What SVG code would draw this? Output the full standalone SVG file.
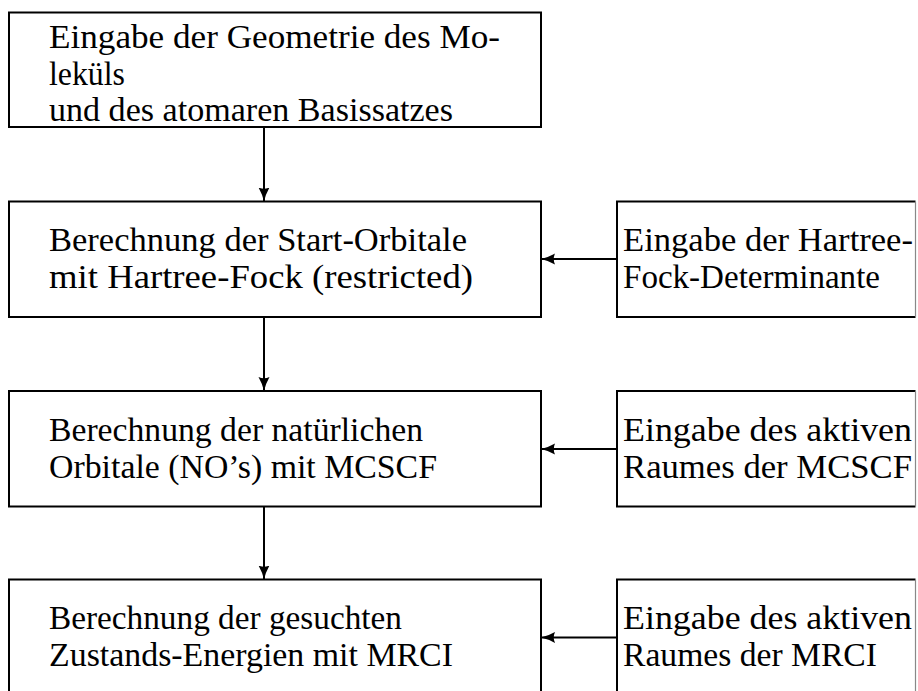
<svg xmlns="http://www.w3.org/2000/svg" width="918" height="691" viewBox="0 0 918 691">
  <style>
    .box { fill: #fff; stroke: #000; stroke-width: 2; }
    .edge { fill: none; stroke: #000; stroke-width: 2; }
    .rim { fill: none; stroke: #888; stroke-width: 1.2; }
    text { font-family: "Liberation Serif", "Times New Roman", serif; font-size: 33px; fill: #000; }
    .conn { fill: none; stroke: #000; stroke-width: 2; marker-end: url(#ah); }
  </style>
  <defs>
    <marker id="ah" viewBox="0 0 14 12" refX="14" refY="6" markerWidth="14" markerHeight="12" orient="auto" markerUnits="userSpaceOnUse">
      <path d="M0,0.5 Q7,4.5 14,6 Q7,7.5 0,11.5 Q2.5,6 0,0.5 z" fill="#000"/>
    </marker>
  </defs>
  <rect width="918" height="691" fill="#fff"/>

  <!-- main column -->
  <g id="input-geometry">
    <rect class="box" x="9" y="12.5" width="532" height="114.5"/>
    <text x="49" y="48" textLength="451" lengthAdjust="spacingAndGlyphs">Eingabe der Geometrie des Mo-</text>
    <text x="49" y="84.5" textLength="76" lengthAdjust="spacingAndGlyphs">leküls</text>
    <text x="49" y="121" textLength="404" lengthAdjust="spacingAndGlyphs">und des atomaren Basissatzes</text>
  </g>

  <g id="start-orbitals">
    <rect class="box" x="9" y="201.5" width="532" height="115.5"/>
    <text x="49" y="251" textLength="418" lengthAdjust="spacingAndGlyphs">Berechnung der Start-Orbitale</text>
    <text x="49" y="288" textLength="424" lengthAdjust="spacingAndGlyphs">mit Hartree-Fock (restricted)</text>
  </g>

  <g id="natural-orbitals">
    <rect class="box" x="9" y="391" width="532" height="115.5"/>
    <text x="49" y="441" textLength="374" lengthAdjust="spacingAndGlyphs">Berechnung der natürlichen</text>
    <text x="49" y="478" textLength="388" lengthAdjust="spacingAndGlyphs">Orbitale (NO’s) mit MCSCF</text>
  </g>

  <g id="state-energies">
    <rect class="box" x="9" y="579.5" width="532" height="130"/>
    <text x="49" y="629" textLength="353" lengthAdjust="spacingAndGlyphs">Berechnung der gesuchten</text>
    <text x="49" y="666" textLength="404" lengthAdjust="spacingAndGlyphs">Zustands-Energien mit MRCI</text>
  </g>

  <!-- input column -->
  <g id="input-hf-determinant">
    <path class="edge" d="M915.5,201.5 H617 V317 H915.5"/>
    <path class="rim" d="M915.5,201.5 V317"/>
    <text x="623" y="251" textLength="290" lengthAdjust="spacingAndGlyphs">Eingabe der Hartree-</text>
    <text x="623" y="288" textLength="257" lengthAdjust="spacingAndGlyphs">Fock-Determinante</text>
  </g>

  <g id="input-mcscf-space">
    <path class="edge" d="M915.5,391 H617 V506.5 H915.5"/>
    <path class="rim" d="M915.5,391 V506.5"/>
    <text x="623" y="441" textLength="289" lengthAdjust="spacingAndGlyphs">Eingabe des aktiven</text>
    <text x="623" y="478" textLength="289" lengthAdjust="spacingAndGlyphs">Raumes der MCSCF</text>
  </g>

  <g id="input-mrci-space">
    <path class="edge" d="M915.5,579.5 H617 V700"/>
    <path class="rim" d="M915.5,579.5 V700"/>
    <text x="623" y="629" textLength="289" lengthAdjust="spacingAndGlyphs">Eingabe des aktiven</text>
    <text x="623" y="666" textLength="254" lengthAdjust="spacingAndGlyphs">Raumes der MRCI</text>
  </g>

  <!-- connectors -->
  <g id="connectors">
    <path class="conn" d="M264,127 V201.5"/>
    <path class="conn" d="M264,317 V391"/>
    <path class="conn" d="M264,506.5 V579.5"/>
    <path class="conn" d="M617,259 H541"/>
    <path class="conn" d="M617,449 H541"/>
    <path class="conn" d="M617,637.5 H541"/>
  </g>
</svg>
